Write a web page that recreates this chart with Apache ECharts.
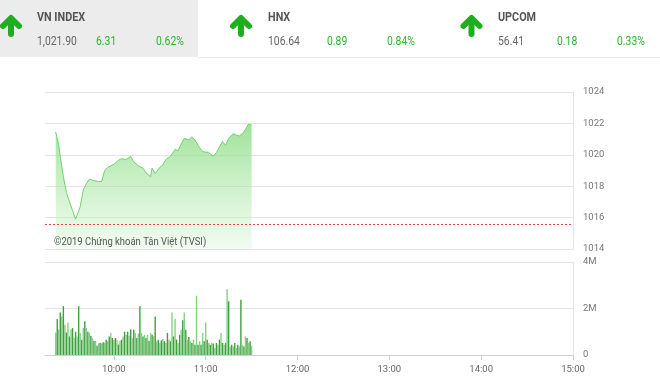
<!DOCTYPE html>
<html><head><meta charset="utf-8">
<script src="https://cdn.jsdelivr.net/npm/echarts@6/dist/echarts.min.js"></script>
<style>html,body{margin:0;padding:0;background:#fff}#c{width:660px;height:378px}</style>
</head><body><div id="c"></div>
<script>
// Header quotes
const indexNames = ['VN INDEX', 'HNX', 'UPCOM'];
const indexValues = ['1,021.90', '106.64', '56.41'];
const indexChanges = ['6.31', '0.89', '0.18'];
const indexPercents = ['0.62%', '0.84%', '0.33%'];

// Intraday index line (time, points)
const priceTimes = ['09:22','09:24','09:25','09:27','09:29','09:31','09:33','09:35','09:37','09:38','09:40','09:42','09:44','09:47','09:50','09:52','09:54','09:56','10:00','10:03','10:05','10:08','10:11','10:13','10:16','10:19','10:21','10:24','10:25','10:27','10:30','10:32','10:34','10:37','10:40','10:42','10:44','10:46','10:49','10:51','10:53','10:55','10:58','11:02','11:05','11:07','11:09','11:11','11:13','11:15','11:18','11:20','11:22','11:25','11:27','11:28','11:30'];
const priceValues = [1021.45,1020.6,1019.9,1018.6,1017.6,1017.0,1016.45,1015.9,1016.4,1016.7,1017.75,1018.15,1018.45,1018.35,1018.3,1018.3,1019.0,1019.2,1019.4,1019.65,1019.75,1019.7,1019.9,1019.55,1019.3,1019.15,1018.85,1018.6,1019.15,1018.8,1019.2,1019.35,1019.7,1019.9,1020.35,1020.25,1020.7,1021.05,1020.95,1021.15,1020.95,1020.6,1020.2,1020.15,1019.9,1020.15,1020.5,1020.85,1020.6,1021.05,1021.35,1021.25,1021.2,1021.45,1021.8,1021.95,1021.9];
const referencePrice = 1015.59;

// Per-minute volume (millions of shares), one bar per minute from volumeStart
const volumeStart = '09:22';
const volumeValues = [
0.97,1.55,1.1,1.83,1.66,2.1,1.3,0.97,1.4,0.8,
1.1,1.16,0.73,1.0,0.8,2.1,0.95,0.66,1.16,1.45,
1.16,1.0,0.95,0.83,0.73,0.6,0.6,0.4,0.5,0.52,
0.5,0.55,0.52,0.66,0.6,0.8,0.95,0.73,0.66,0.73,
0.66,0.45,0.6,0.66,0.8,1.0,0.87,1.0,0.83,1.1,
0.73,1.1,0.95,0.73,0.92,2.1,0.95,0.8,0.87,0.73,
0.87,0.6,0.95,0.87,0.8,1.66,0.59,0.66,0.52,0.63,
0.69,0.59,0.52,0.95,0.66,0.59,1.83,0.8,1.55,0.66,
0.52,0.87,1.09,1.49,1.83,1.09,0.66,0.77,0.59,0.52,
0.66,0.44,2.55,0.44,0.59,0.44,0.95,0.59,1.4,0.66,
0.52,0.44,0.54,0.49,0.3,0.52,0.44,0.66,0.95,0.52,
0.44,0.52,2.84,2.31,0.37,0.44,0.37,0.52,0.3,0.44,
0.37,2.38,0.44,0.37,0.8,0.73,0.52,0.59,0.4];

const timeTicks = ['10:00','11:00','12:00','13:00','14:00','15:00'];
const axisStart = '09:15', axisEnd = '15:00';
const priceTicks = [1014, 1024, 2];
const volumeTicks = [0, 4, 2];

function toMin(s){const p=s.split(':');return +p[0]*60 + +p[1];}
function fmt(m){const h=Math.floor(m/60), mm=m%60;return h+':'+(mm<10?'0':'')+mm;}

const priceData = priceTimes.map((t,i)=>[toMin(t), priceValues[i]]);
const v0 = toMin(volumeStart);
const volumeData = volumeValues.map((v,i)=>[v0+i, v*1e6]);
const tickMins = timeTicks.map(toMin);

const chart = echarts.init(document.getElementById('c'), null, {renderer:'canvas'});
const green = '#2fb52f';
const font = 'Roboto';

const graphics = [
  {type:'rect', shape:{x:0,y:0,width:198,height:57}, style:{fill:'#ececec'}, z:0},
  {type:'line', shape:{x1:198,y1:57.5,x2:660,y2:57.5}, style:{stroke:'#ececec',lineWidth:1}},
  {type:'text', x:54, y:242, scaleX:0.9, style:{text:'©2019 Chứng khoán Tân Việt (TVSI)', fill:'#555', font:'10.5px Roboto', textVerticalAlign:'middle'}, z:10}
];
const blockX = [37, 268, 498];
const arrowX = [11, 241, 471.5];
for (let k=0;k<3;k++){
  const cx = arrowX[k];
  graphics.push({type:'polyline', shape:{points:[[cx-8,26],[cx,18],[cx+8,26]]}, style:{stroke:'#1fae1f',lineWidth:6,lineCap:'round',lineJoin:'round',fill:null}});
  graphics.push({type:'line', shape:{x1:cx,y1:19,x2:cx,y2:34}, style:{stroke:'#1fae1f',lineWidth:6,lineCap:'round'}});
  const x = blockX[k];
  graphics.push({type:'text', x:x, y:18, scaleX:0.8, style:{text:indexNames[k], fill:'#555', font:'bold 13.5px Roboto', textVerticalAlign:'middle'}});
  graphics.push({type:'text', x:x, y:42, scaleX:0.8, style:{text:indexValues[k], fill:'#666', font:'13px Roboto', textVerticalAlign:'middle'}});
  graphics.push({type:'text', x:x+59, y:42, scaleX:0.8, style:{text:indexChanges[k], fill:green, font:'13px Roboto', textVerticalAlign:'middle'}});
  graphics.push({type:'text', x:x+119, y:42, scaleX:0.8, style:{text:indexPercents[k], fill:green, font:'13px Roboto', textVerticalAlign:'middle'}});
}

const gridLine = '#e4e4e4';
chart.setOption({
  animation:false,
  graphic: graphics,
  grid:[
    {left:45, right:87, top:92, height:157},
    {left:45, right:87, top:262, height:93}
  ],
  xAxis:[
    {type:'value', gridIndex:0, min:toMin(axisStart), max:toMin(axisEnd), show:false},
    {type:'value', gridIndex:1, min:toMin(axisStart), max:toMin(axisEnd),
      axisLine:{show:true, lineStyle:{color:'#cfcfcf'}},
      axisTick:{show:true, length:5, customValues:tickMins, lineStyle:{color:'#cfcfcf'}},
      axisLabel:{customValues:tickMins, formatter:v=>fmt(v), color:'#666', fontSize:9.5, fontFamily:font, margin:10},
      splitLine:{show:false}}
  ],
  yAxis:[
    {type:'value', gridIndex:0, position:'right', min:priceTicks[0], max:priceTicks[1], interval:priceTicks[2],
      axisLine:{show:true, lineStyle:{color:gridLine}}, axisTick:{show:false},
      axisLabel:{color:'#777', fontSize:9.5, fontFamily:font, margin:10, formatter:v=>String(v)},
      splitLine:{lineStyle:{color:gridLine}}},
    {type:'value', gridIndex:1, position:'right', min:volumeTicks[0]*1e6, max:volumeTicks[1]*1e6, interval:volumeTicks[2]*1e6,
      axisLine:{show:true, lineStyle:{color:gridLine}}, axisTick:{show:false},
      axisLabel:{color:'#777', fontSize:9.5, fontFamily:font, margin:10, formatter:v=>v===0?'0':(v/1e6)+'M'},
      splitLine:{lineStyle:{color:gridLine}}}
  ],
  series:[
    {type:'line', xAxisIndex:0, yAxisIndex:0, data:priceData, showSymbol:false, symbol:'none',
      lineStyle:{color:'#6fd26f', width:1},
      areaStyle:{color:new echarts.graphic.LinearGradient(0,0,0,1,[
        {offset:0, color:'rgba(115,215,105,1)'},
        {offset:1, color:'rgba(220,246,218,0.6)'}])},
      markLine:{silent:true, symbol:'none', label:{show:false},
        lineStyle:{color:'#e04848', type:[2,2], width:1},
        data:[{yAxis:referencePrice}]}},
    {type:'bar', xAxisIndex:1, yAxisIndex:1, data:volumeData, barWidth:1.4,
      itemStyle:{color:p=>p.dataIndex%2 ? '#3f9f3f' : '#86cf86'}}
  ]
});
</script></body></html>
